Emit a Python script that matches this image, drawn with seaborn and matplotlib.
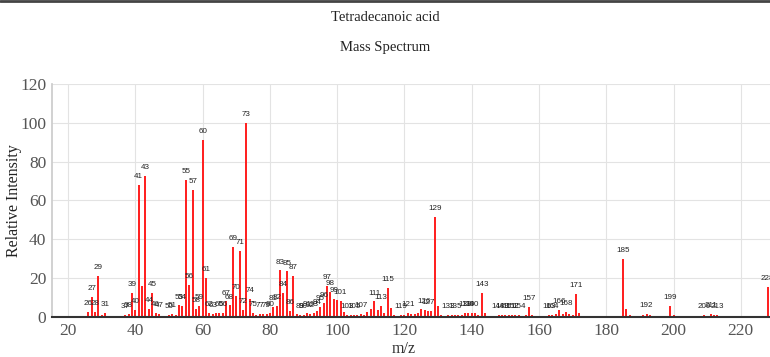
import matplotlib
matplotlib.use("Agg")
import matplotlib.pyplot as plt
import seaborn as sns
import pandas as pd

# peak list (m/z, relative intensity)
mz = [26, 27, 28, 29, 30, 31, 37, 38, 39, 40, 41, 42, 43, 44, 45, 46, 47,
      50, 51, 52, 53, 54, 55, 56, 57, 58, 59, 60, 61, 62, 63, 64, 65, 66,
      67, 68, 69, 70, 71, 72, 73, 74, 75, 76, 77, 78, 79, 80, 81, 82, 83,
      84, 85, 86, 87, 88, 89, 90, 91, 92, 93, 94, 95, 96, 97, 98, 99, 100,
      101, 102, 103, 104, 105, 106, 107, 108, 109, 110, 111, 112, 113, 114,
      115, 116, 117, 118, 119, 120, 121, 122, 123, 124, 125, 126, 127, 128,
      129, 130, 131, 132, 133, 134, 135, 136, 137, 138, 139, 140, 141, 142,
      143, 144, 145, 148, 149, 150, 151, 152, 153, 154, 155, 156, 157, 158,
      163, 164, 165, 166, 167, 168, 169, 170, 171, 172, 173, 185, 186, 187,
      191, 192, 193, 199, 200, 209, 210, 211, 212, 213, 228, 229]
intensity = [2.5, 10.5, 2.5, 21, 1, 2, 1, 1.5, 12.5, 3.5, 68, 16, 72.5, 4, 12.5, 2, 1.5,
             1, 1.5, 1, 6, 5.5, 70.5, 16.5, 65.5, 4, 5.5, 91, 20, 2, 1.5, 2, 2, 2,
             8, 6, 36, 11, 34, 3.5, 100, 9.5, 2, 1, 1.5, 1.5, 1.5, 2, 5, 5.5, 24,
             12.5, 23.5, 3, 21, 1.5, 1, 1, 2, 1.5, 2, 3, 5, 7, 16, 13, 9.5, 9,
             8.5, 2.5, 1, 1, 1, 1, 1.5, 1, 2.5, 4, 8, 3.5, 5.5, 2,
             15, 4.5, 1, 0.5, 1, 1, 2, 1.5, 1.5, 2, 4, 3.5, 3, 3,
             51.5, 5.5, 1, 0.5, 1, 1, 1, 1, 1, 2, 2, 2, 2, 1,
             12.5, 2, 0.5, 1, 1, 1, 1, 1, 1, 1, 0.5, 1, 5, 1,
             1, 1, 1.5, 3.5, 1.5, 2.5, 1.5, 1, 12, 2, 0.5, 30, 4, 1,
             1, 1.5, 1, 5.5, 1, 1, 0.5, 1.5, 1, 1, 15.5, 2.5]

# peaks that carry an m/z label in the original
labelled = [26, 27, 28, 29, 31, 37, 38, 39, 40, 41, 43, 44, 45, 46, 47, 50, 51,
            53, 54, 55, 56, 57, 58, 59, 60, 61, 62, 63, 65, 66, 67, 68, 69, 70,
            71, 72, 73, 74, 75, 77, 79, 80, 81, 82, 83, 84, 85, 86, 87, 89, 90,
            91, 92, 93, 94, 95, 96, 97, 98, 99, 101, 103, 105, 107, 111, 113,
            115, 119, 121, 126, 127, 129, 133, 135, 138, 139, 140, 143, 148,
            149, 151, 152, 154, 157, 163, 164, 166, 168, 171, 185, 192, 199,
            209, 211, 213, 228]

x_ticks = [20, 40, 60, 80, 100, 120, 140, 160, 180, 200, 220]
y_ticks = [0, 20, 40, 60, 80, 100, 120]

df = pd.DataFrame({"mz": mz, "intensity": intensity})

sns.set_theme(style="whitegrid")
plt.rcParams["font.family"] = ["Liberation Serif", "DejaVu Serif"]

fig = plt.figure(figsize=(7.7, 3.57), dpi=100)
ax = fig.add_axes([0.0675, 0.112, 0.933, 0.653])

sns.barplot(data=df, x="mz", y="intensity", native_scale=True, width=0.6,
            color="#ff2222", saturation=1, errorbar=None, linewidth=0, ax=ax)

# m/z label above the labelled peaks
for m, i in zip(mz, intensity):
    if m in labelled:
        ax.text(m, i + 2.5, str(m), ha="center", va="bottom", fontsize=5.8,
                family="Liberation Sans", color="#222222")

ax.set_xlim(15.2, 228.8)
ax.set_ylim(0, 120)
ax.set_xticks(x_ticks)
ax.set_yticks(y_ticks)
ax.tick_params(axis="both", labelsize=12.5, colors="#555555", length=0, pad=4)
ax.grid(True, color="#e3e3e3", linewidth=0.8)
ax.set_axisbelow(True)
for side in ["top", "right"]:
    ax.spines[side].set_visible(False)
ax.spines["left"].set_color("#cccccc")
ax.spines["bottom"].set_color("#333333")
ax.spines["bottom"].set_linewidth(1.5)

ax.set_xlabel("m/z", fontsize=11.5, color="#333333")
ax.set_ylabel("Relative Intensity", fontsize=11.5, color="#222222")
ax.xaxis.set_label_coords(0.49, -0.103)
ax.yaxis.set_label_coords(-0.042, 0.5)

fig.text(0.5, 0.952, "Tetradecanoic acid", ha="center", va="center", fontsize=10.5, color="#222222")
fig.text(0.5, 0.866, "Mass Spectrum", ha="center", va="center", fontsize=10.5, color="#222222")
fig.add_artist(plt.Line2D([0, 1], [0.997, 0.997], color="#444444", linewidth=2))

fig.savefig("out.png", dpi=100)
